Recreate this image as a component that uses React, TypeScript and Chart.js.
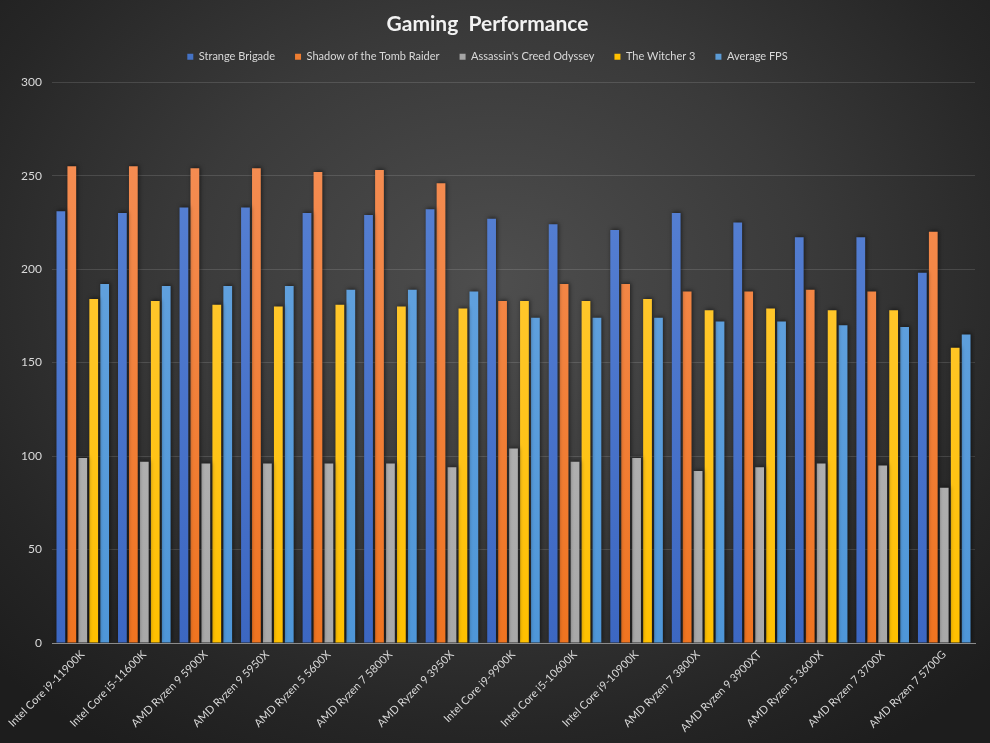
import React, { useEffect, useRef } from "react";
import { Chart, registerables } from "chart.js";

Chart.register(...registerables);

const categories = [
  "Intel Core i9-11900K",
  "Intel Core i5-11600K",
  "AMD Ryzen 9 5900X",
  "AMD Ryzen 9 5950X",
  "AMD Ryzen 5 5600X",
  "AMD Ryzen 7 5800X",
  "AMD Ryzen 9 3950X",
  "Intel Core i9-9900K",
  "Intel Core i5-10600K",
  "Intel Core i9-10900K",
  "AMD Ryzen 7 3800X",
  "AMD Ryzen 9 3900XT",
  "AMD Ryzen 5 3600X",
  "AMD Ryzen 7 3700X",
  "AMD Ryzen 7 5700G",
];

const strangeBrigade = [231, 230, 233, 233, 230, 229, 232, 227, 224, 221, 230, 225, 217, 217, 198];
const shadowTombRaider = [255, 255, 254, 254, 252, 253, 246, 183, 192, 192, 188, 188, 189, 188, 220];
const assassinsCreed = [99, 97, 96, 96, 96, 96, 94, 104, 97, 99, 92, 94, 96, 95, 83];
const witcher3 = [184, 183, 181, 180, 181, 180, 179, 183, 183, 184, 178, 179, 178, 178, 158];
const averageFps = [192, 191, 191, 191, 189, 189, 188, 174, 174, 174, 172, 172, 170, 169, 165];

const seriesNames = [
  "Strange Brigade",
  "Shadow of the Tomb Raider",
  "Assassin's Creed Odyssey",
  "The Witcher 3",
  "Average FPS",
];
const seriesColors = [
  ["#5B85D6", "#3C67C2"],
  ["#F5905A", "#EF7420"],
  ["#BDBDBD", "#A8A8A8"],
  ["#FFCA45", "#FFC000"],
  ["#6AA6E0", "#4E96D8"],
];
const legendColors = ["#4472C4", "#ED7D31", "#A5A5A5", "#FFC000", "#5B9BD5"];

const FONT = "Lato, 'Open Sans', sans-serif";

export default function App() {
  const ref = useRef<HTMLCanvasElement | null>(null);

  useEffect(() => {
    document.body.style.margin = "0";
    const canvas = ref.current;
    if (!canvas) return;
    const allData = [strangeBrigade, shadowTombRaider, assassinsCreed, witcher3, averageFps];

    const shadowPlugin = {
      id: "barShadow",
      beforeDatasetsDraw(chart: any) {
        const ctx = chart.ctx;
        ctx.save();
        ctx.shadowColor = "rgba(0,0,0,0.55)";
        ctx.shadowBlur = 4;
        ctx.shadowOffsetX = 1;
        ctx.shadowOffsetY = -1;
      },
      afterDatasetsDraw(chart: any) {
        chart.ctx.restore();
      },
    };

    const chart = new Chart(canvas, {
      type: "bar",
      data: {
        labels: categories,
        datasets: allData.map((d, i) => ({
          label: seriesNames[i],
          data: d,
          backgroundColor: (c: any) => {
            const area = c.chart.chartArea;
            if (!area) return legendColors[i];
            const g = c.chart.ctx.createLinearGradient(0, area.top, 0, area.bottom);
            g.addColorStop(0, seriesColors[i][0]);
            g.addColorStop(1, seriesColors[i][1]);
            return g;
          },
          borderWidth: 0,
          categoryPercentage: 0.89,
          barPercentage: 0.8,
        })),
      },
      plugins: [shadowPlugin],
      options: {
        responsive: false,
        animation: false,
        layout: { padding: { top: 0, right: 15, left: 0, bottom: 0 } },
        plugins: {
          title: {
            display: true,
            text: "Gaming  Performance",
            color: "#F2F2F2",
            font: { family: FONT, size: 21, weight: "bold" },
            padding: { top: 12, bottom: -6 },
          },
          subtitle: {
            display: true,
            text: "",
            weight: 500,
            font: { family: FONT, size: 10, lineHeight: 0 },
            padding: { top: 10, bottom: 0 },
          },
          legend: {
            display: true,
            position: "top",
            labels: {
              color: "#D9D9D9",
              font: { family: FONT, size: 11 },
              boxWidth: 6,
              boxHeight: 6,
              padding: 20,
              generateLabels: () =>
                seriesNames.map((n, i) => ({
                  text: n,
                  fillStyle: legendColors[i],
                  strokeStyle: legendColors[i],
                  lineWidth: 0,
                  fontColor: "#D9D9D9",
                  datasetIndex: i,
                  hidden: false,
                })),
            },
          },
          tooltip: { enabled: false },
        },
        scales: {
          x: {
            grid: { display: false, drawTicks: false },
            border: { display: true, color: "#8C8C8C", width: 1 },
            afterFit: (s: any) => {
              s.height = 100;
            },
            ticks: {
              color: "#D9D9D9",
              font: { family: FONT, size: 11 },
              minRotation: 45,
              maxRotation: 45,
              autoSkip: false,
              padding: 5,
            },
          },
          y: {
            min: 0,
            max: 300,
            afterFit: (s: any) => {
              s.width = 52;
            },
            grid: { color: "rgba(255,255,255,0.13)", drawTicks: false },
            border: { display: false },
            ticks: {
              stepSize: 50,
              color: "#D9D9D9",
              font: { family: FONT, size: 12 },
              padding: 10,
            },
          },
        },
      },
    });
    return () => chart.destroy();
  }, []);

  return (
    <div
      style={{
        position: "absolute",
        left: 0,
        top: 0,
        width: 990,
        height: 743,
        background:
          "radial-gradient(ellipse 70% 75% at 50% 38%, #4e4e4e 0%, #3a3a3a 45%, #262626 80%, #1d1d1d 100%)",
      }}
    >
      <canvas ref={ref} width={990} height={743} />
    </div>
  );
}
